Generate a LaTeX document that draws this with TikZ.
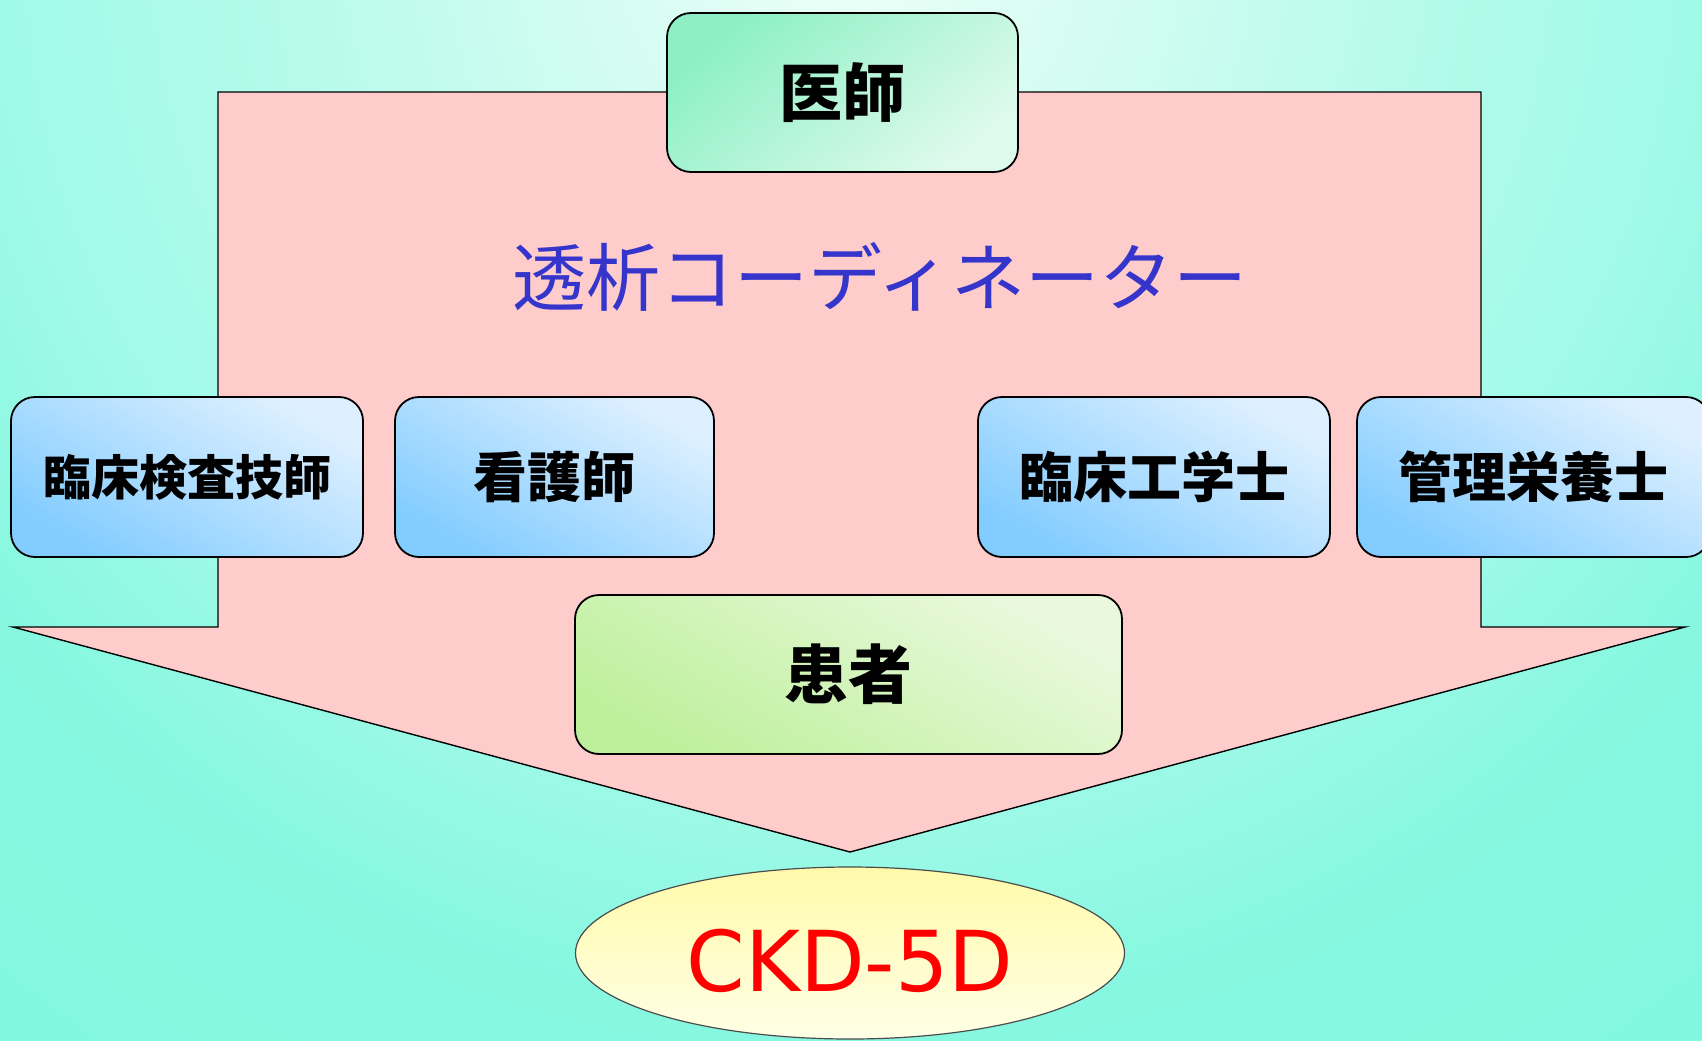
\documentclass[tikz,border=0pt]{standalone}
\usepackage{fontspec}
\newfontfamily\jp{Noto Sans CJK JP}
\newfontfamily\latinf{DejaVu Sans}
\definecolor{arrowpink}{HTML}{FFCCCC}
\definecolor{coordblue}{HTML}{3535CC}
\definecolor{ckdred}{HTML}{FF0000}
\pgfdeclareradialshading{bgshade}{\pgfpoint{0bp}{0bp}}{rgb(0bp)=(0.93,1,0.97); rgb(4bp)=(0.84,0.99,0.95); rgb(10bp)=(0.70,0.98,0.92); rgb(14bp)=(0.63,0.98,0.91); rgb(18bp)=(0.53,0.97,0.88); rgb(25bp)=(0.50,0.97,0.87); rgb(50bp)=(0.50,0.97,0.87)}
\tikzset{
  boxbase/.style={draw=black, line width=1.8pt, rounded corners=24pt, inner sep=0pt, align=center},
  greenbox/.style={boxbase, top color={rgb,255:red,140;green,240;blue,196}, bottom color={rgb,255:red,222;green,250;blue,236}, shading angle=40},
  bluebox/.style={boxbase, top color={rgb,255:red,222;green,240;blue,255}, bottom color={rgb,255:red,130;green,204;blue,255}, shading angle=-30, minimum height=160pt, font=\jp\bfseries\fontsize{54}{60}\selectfont},
  limebox/.style={boxbase, top color={rgb,255:red,234;green,249;blue,222}, bottom color={rgb,255:red,190;green,240;blue,156}, shading angle=-30},
  arrowshape/.style={draw=black, line width=1.4pt, fill=arrowpink, line join=miter},
  goal/.style={draw=black!70, line width=1.2pt, ellipse, top color={rgb,255:red,255;green,250;blue,170}, bottom color={rgb,255:red,255;green,255;blue,230}, inner sep=0pt}
}
\usetikzlibrary{shapes.geometric}
\begin{document}
\begin{tikzpicture}[x=1pt,y=-1pt]
\useasboundingbox (0,0) rectangle (1702,1041);
\begin{scope}
\clip (0,0) rectangle (1702,1041);
\fill[shading=bgshade] (850,-60) circle (1500pt);
\end{scope}
% big arrow
\draw[arrowshape] (218,92) -- (1481,92) -- (1481,627) -- (1685,627) -- (850,852) -- (13,627) -- (218,627) -- cycle;
% title text
\node[text=coordblue, font=\jp\fontsize{74}{80}\selectfont, inner sep=0pt] (coord) at (880,277) {透析コーディネーター};
% top doctor box
\node[greenbox, minimum width=351pt, minimum height=159pt, font=\jp\bfseries\fontsize{63}{70}\selectfont] (doctor) at (842.5,92.5) {医師};
% blue boxes
\node[bluebox, minimum width=352pt, font=\jp\bfseries\fontsize{48}{56}\selectfont] (lab) at (187,477) {臨床検査技師};
\node[bluebox, minimum width=319pt] (nurse) at (554.5,477) {看護師};
\node[bluebox, minimum width=352pt] (ce) at (1154,477) {臨床工学士};
\node[bluebox, minimum width=353pt] (diet) at (1533.5,477) {管理栄養士};
% patient
\node[limebox, minimum width=547pt, minimum height=159pt, font=\jp\bfseries\fontsize{64}{70}\selectfont] (patient) at (848.5,674.5) {患者};
% goal ellipse
\node[goal, minimum width=549pt, minimum height=172pt] (ckd) at (850,953) {};
\node[text=ckdred, font=\latinf\fontsize{84}{90}\selectfont, inner sep=0pt] (ckdlabel) at (850,961) {CKD-5D};
\end{tikzpicture}
\end{document}
